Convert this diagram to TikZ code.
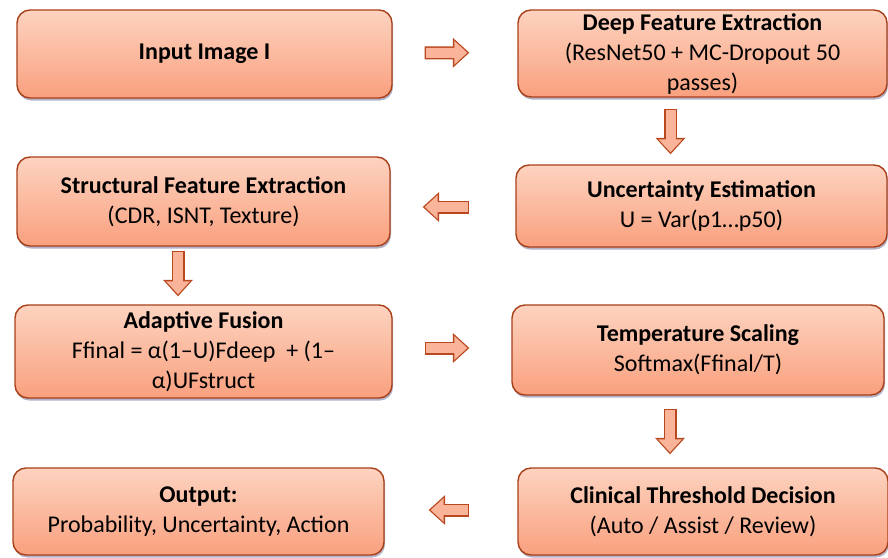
\documentclass[tikz,border=0pt]{standalone}
\usepackage{fontspec}
\setmainfont{Carlito}
\usetikzlibrary{arrows.meta,shadows}
\definecolor{boxtop}{HTML}{FDD3C0}
\definecolor{boxbot}{HTML}{F9A07E}
\definecolor{boxedge}{HTML}{A8401A}
\definecolor{arrfill}{HTML}{F9B49A}
\definecolor{arredge}{HTML}{B9481E}
\tikzset{stage/.style={draw=boxedge, line width=1.4pt, rounded corners=13pt, top color=boxtop, bottom color=boxbot,
    align=center, inner sep=2pt, font=\fontsize{24}{30}\selectfont,
    drop shadow={shadow xshift=1pt, shadow yshift=-2.5pt, opacity=0.3, fill=black!70!blue}},
  flowarr/.style={draw=arrfill, line width=10pt, line cap=rect,
    -{Triangle[width=24pt,length=13pt,sep=2pt,line width=0pt]},
    preaction={draw=arredge, line width=13pt, line cap=rect, -{Triangle[width=30pt,length=16.5pt,line width=0pt]}}}}

\begin{document}
\begin{tikzpicture}[x=1pt, y=-1pt]
  \useasboundingbox (0,0) rectangle (888,557);
  % left column
  \node[stage, minimum width=375pt, minimum height=88pt] (inp) at (204.5,54) {\textbf{Input Image I}};
  \node[stage, minimum width=373pt, minimum height=89pt] (struct) at (203.5,201.5)
    {\textbf{Structural Feature Extraction}\\(CDR, ISNT, Texture)};
  \node[stage, minimum width=377pt, minimum height=93pt] (fusion) at (203.5,351.5)
    {\textbf{Adaptive Fusion}\\Ffinal = α(1–U)Fdeep\ \ + (1–\\α)UFstruct};
  \node[stage, minimum width=371pt, minimum height=87pt] (out) at (198.5,511.5)
    {\textbf{Output:}\\Probability, Uncertainty, Action};
  % right column
  \node[stage, minimum width=369pt, minimum height=87pt] (deep) at (702.5,53.5)
    {\textbf{Deep Feature Extraction}\\(ResNet50 + MC-Dropout 50\\passes)};
  \node[stage, minimum width=371pt, minimum height=82pt] (unc) at (701.5,206)
    {\textbf{Uncertainty Estimation}\\U = Var(p1…p50)};
  \node[stage, minimum width=372pt, minimum height=90pt] (temp) at (698,350)
    {\textbf{Temperature Scaling}\\Softmax(Ffinal/T)};
  \node[stage, minimum width=370pt, minimum height=87pt] (clin) at (703,511.5)
    {\textbf{Clinical Threshold Decision}\\(Auto / Assist / Review)};

  % block arrows
  \draw[flowarr, shorten <=38.5pt, shorten >=48pt] ([yshift=1pt]inp.east) -- ([yshift=1pt]deep.west);
  \draw[flowarr, shorten <=17.5pt, shorten >=10pt] ([xshift=-32pt]deep.south) -- ([xshift=-31pt]unc.north);
  \draw[flowarr, shorten <=52.5pt, shorten >=32pt] ([yshift=-1pt]unc.west) -- ([yshift=-5.5pt]struct.east);
  \draw[flowarr, shorten <=10.5pt, shorten >=8pt] ([xshift=-25.5pt]struct.south) -- ([xshift=-25.5pt]fusion.north);
  \draw[flowarr, shorten <=38.5pt, shorten >=42pt] ([yshift=3.5pt]fusion.east) -- ([yshift=2pt]temp.west);
  \draw[flowarr, shorten <=19.5pt, shorten >=13pt] ([xshift=-28pt]temp.south) -- ([xshift=-33pt]clin.north);
  \draw[flowarr, shorten <=54.5pt, shorten >=44pt] ([yshift=1.5pt]clin.west) -- ([yshift=1.5pt]out.east);
\end{tikzpicture}
\end{document}
